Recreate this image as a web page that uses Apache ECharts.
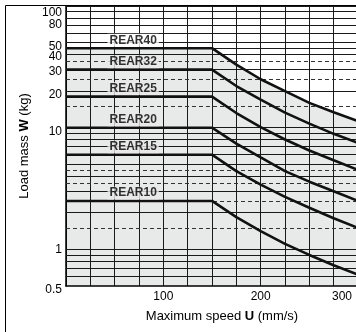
<!DOCTYPE html>
<html><head><meta charset="utf-8">
<script src="https://cdn.jsdelivr.net/npm/echarts@6/dist/echarts.min.js"></script>
<style>html,body{margin:0;padding:0;background:#fff}#c{width:356px;height:332px}</style>
</head><body><div id="c"></div>
<script>
// ---- data ----
const speeds = [0, 150, 175, 200, 225, 250, 275, 300];           // mm/s
const seriesNames = ['REAR40', 'REAR32', 'REAR25', 'REAR20', 'REAR15', 'REAR10'];
const rear40 = [45, 45, 33, 25, 20, 16, 13.4, 11.3];
const rear32 = [30, 30, 22, 17, 13.3, 10.8, 8.9, 7.5];
const rear25 = [18, 18, 13.2, 10.1, 8, 6.5, 5.4, 4.5];
const rear20 = [10, 10, 7.4, 5.7, 4.4, 3.6, 3, 2.5];
const rear15 = [6, 6, 4.4, 3.4, 2.7, 2.2, 1.8, 1.5];
const rear10 = [2.5, 2.5, 1.84, 1.41, 1.11, 0.9, 0.74, 0.62];
const yTickLabels = [0.5, 1, 10, 20, 30, 40, 50, 80, 100];
const xTickLabels = [100, 200, 300];
const solidGridValues = [0.6, 0.7, 0.8, 0.9, 1, 2, 3, 4, 5, 6, 7, 8, 9, 10, 20, 30, 40, 45, 50, 60, 70, 80, 90, 100];
const dashedGridValues = [1.5, 2.5, 3.5, 4.5, 15, 25, 35];

// ---- chart ----
const FONT = '"Liberation Sans", Arial, Helvetica, sans-serif';
const FILL = '#e8e9e9';
const LABEL_SPEED = 69;
const allSeries = [rear40, rear32, rear25, rear20, rear15, rear10];
const pairs = arr => speeds.map((s, i) => [s, arr[i]]);
const Y_MIN = Math.min.apply(null, yTickLabels);
const Y_MAX = Math.max.apply(null, yTickLabels);
// labels split over two overlaid axes so the crowded top pair both stay visible
const yLabelsA = yTickLabels.filter((v, i) => i !== yTickLabels.length - 2);
const yLabelsB = yTickLabels.filter((v, i) => i === yTickLabels.length - 2);

const chart = echarts.init(document.getElementById('c'), null, {renderer: 'canvas'});

const series = [];
// grey area under the largest envelope
series.push({
  type: 'line', data: pairs(rear40), symbol: 'none', silent: true, z: 1,
  lineStyle: {width: 0}, areaStyle: {color: FILL, opacity: 1, origin: 'start'}
});
// horizontal grid lines (log-spaced minor values)
series.push({
  type: 'line', data: [], symbol: 'none', silent: true, z: 3,
  markLine: {
    silent: true, symbol: 'none', z: 3, animation: false,
    label: {show: false},
    data: solidGridValues.map(v => ({yAxis: v, lineStyle: {color: '#1a1a1a', width: 1, type: 'solid'}}))
      .concat(dashedGridValues.map(v => ({yAxis: v, lineStyle: {color: '#333', width: 1, type: [4, 3]}})))
  }
});
// curves
allSeries.forEach((arr, i) => {
  series.push({
    type: 'line', name: seriesNames[i], data: pairs(arr), symbol: 'none', silent: true, z: 4,
    lineStyle: {color: '#111', width: 2.6}
  });
});
// curve name labels
series.push({
  type: 'scatter', symbolSize: 0, silent: true, z: 10, clip: false,
  data: seriesNames.map((n, i) => ({name: n, value: [LABEL_SPEED, allSeries[i][0]],
    label: {backgroundColor: i === 0 ? '#fff' : FILL}})),
  label: {
    show: true, position: 'inside', offset: [0, -8], formatter: p => p.name,
    fontFamily: FONT, fontSize: 12, fontWeight: 'bold', color: '#000',
    padding: [1, 2, 0, 2]
  }
});

const yl = (pad) => ({fontFamily: FONT, fontSize: 12, lineHeight: 12, color: '#000', padding: [pad, 0, 0, 0]});
const yLabel = (values) => ({
  customValues: values, margin: 4, fontFamily: FONT, fontSize: 12, color: '#000',
  showMaxLabel: true, showMinLabel: true, hideOverlap: false,
  formatter: v => {
    const n = Number(Number(v).toPrecision(6));
    const k = n >= 80 ? 'a' : (n === 1 ? 'c' : ((n === 30 || n === 40) ? 'd' : 'n'));
    return '{' + k + '|' + n + '}';
  },
  rich: {a: yl(14), n: yl(8), d: yl(4), c: yl(0)}
});

chart.setOption({
  animation: false,
  backgroundColor: '#fff',
  grid: {left: 66, right: -2, top: 6, bottom: 46, containLabel: false, outerBoundsMode: 'none'},
  graphic: [{type: 'rect', silent: true, z: 0,
    shape: {x: 5.5, y: 5.5, width: 600, height: 600},
    style: {fill: 'none', stroke: '#000', lineWidth: 1}}],
  xAxis: {
    type: 'value', min: 0, max: 300, interval: 25, z: 2,
    axisLine: {show: true, lineStyle: {color: '#000', width: 1.5}},
    axisTick: {show: false},
    splitLine: {show: true, lineStyle: {color: '#1a1a1a', width: 1}},
    axisLabel: {
      margin: 5, fontFamily: FONT, fontSize: 12, color: '#000',
      alignMaxLabel: 'right',
      formatter: v => xTickLabels.indexOf(v) < 0 ? '' : (v === 300 ? '{e|' + v + '}' : String(v)),
      rich: {e: {fontFamily: FONT, fontSize: 12, color: '#000', padding: [0, 6, 0, 0]}}
    },
    name: 'Maximum speed {b|U} (mm/s)', nameLocation: 'middle', nameGap: 24,
    nameTextStyle: {fontFamily: FONT, fontSize: 13, color: '#000', padding: [0, 0, 0, 20],
      rich: {b: {fontFamily: FONT, fontSize: 13, fontWeight: 'bold', color: '#000'}}}
  },
  yAxis: [{
    type: 'log', logBase: 10, min: Y_MIN, max: Y_MAX * (1 + 1e-7), z: 2, position: 'left',
    axisLine: {show: true, lineStyle: {color: '#000', width: 1.5}},
    axisTick: {show: false},
    splitLine: {show: false},
    minorSplitLine: {show: false},
    axisLabel: yLabel(yLabelsA),
    name: 'Load mass {b|W} (kg)', nameLocation: 'middle', nameGap: 32,
    nameTextStyle: {fontFamily: FONT, fontSize: 13, color: '#000',
      rich: {b: {fontFamily: FONT, fontSize: 13, fontWeight: 'bold', color: '#000'}}}
  }, {
    type: 'log', logBase: 10, min: Y_MIN, max: Y_MAX * (1 + 1e-7), z: 2, position: 'left', offset: 0,
    axisLine: {show: false},
    axisTick: {show: false},
    splitLine: {show: false},
    minorSplitLine: {show: false},
    axisLabel: yLabel(yLabelsB)
  }],
  series: series
});
</script>
</body></html>
